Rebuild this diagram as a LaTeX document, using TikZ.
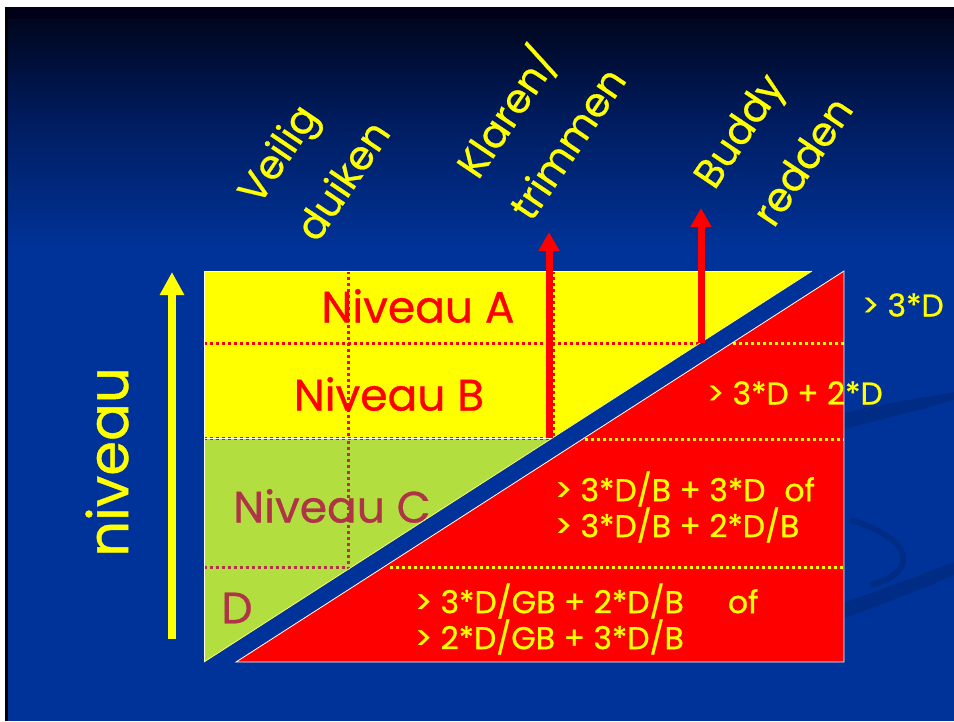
\documentclass[tikz,border=0pt]{standalone}
\usepackage{fontspec}
\setmainfont{Poppins}[FakeBold=0.7]
\usetikzlibrary{arrows.meta}
\definecolor{slideblue}{RGB}{0,51,153}
\definecolor{midblue}{RGB}{0,28,95}
\definecolor{topblue}{RGB}{0,6,30}
\definecolor{lime}{RGB}{178,222,64}
\definecolor{maroon}{RGB}{176,52,72}
\definecolor{ylw}{RGB}{255,255,0}
\begin{document}
\begin{tikzpicture}[x=1pt,y=-1pt,
  lab/.style={inner sep=0pt, font=\fontsize{44}{50}\selectfont},
  rot/.style={inner sep=0pt, rotate=56, text=ylw, font=\fontsize{40}{46}\selectfont},
  small/.style={inner sep=0pt, anchor=west, text=ylw, align=left, font=\fontsize{31.5}{36}\selectfont},
  dotline/.style={line width=3pt, dash pattern=on 3pt off 3pt},
  arrowred/.style={draw=red, line width=7pt, -{Triangle[width=20pt,length=19pt]}},
  arrowylw/.style={draw=ylw, line width=7.5pt, -{Triangle[width=23pt,length=23pt]}},
  outline/.style={draw=white, line width=0.8pt}]
\useasboundingbox (0,0) rectangle (954,721);
% slide background
\fill[white] (0,0) rectangle (954,721);
\fill[black] (5,7) rectangle (954,721);
\fill[slideblue] (8,19) rectangle (954,721);
\fill[black!90!blue] (8,7) rectangle (954,19);
\shade[top color=topblue, bottom color=midblue] (8,19) rectangle (954,120);
\shade[top color=midblue, bottom color=slideblue] (8,120) rectangle (954,250);
% faint swooshes
\fill[black, opacity=0.12] (840,430) .. controls (880,420) and (920,410) .. (954,400) -- (954,392) .. controls (920,398) and (880,404) .. (840,414) -- cycle;
\fill[black, opacity=0.12] (840,620) .. controls (880,605) and (920,590) .. (954,575) -- (954,562) .. controls (920,575) and (880,590) .. (840,604) -- cycle;
\draw[black, opacity=0.12, line width=6pt] (850,520) .. controls (920,540) and (915,575) .. (870,585);
% regions
\fill[ylw] (204,271) -- (812,271) -- (552,438) -- (204,438) -- cycle;
\fill[lime] (204,438) -- (552,438) -- (204,662) -- cycle;
\fill[red] (236,662) -- (844,662) -- (844,271) -- cycle;
% texts in regions
\node[lab, text=red] (na) at (418,306) {Niveau A};
\node[lab, text=red] (nb) at (389,394) {Niveau B};
\node[lab, text=maroon] (nc) at (332,506) {Niveau C};
\node[lab, text=maroon] (nd) at (237,608) {D};
% dotted grid
\draw[dotline, red] (204,343) -- (699,343);
\draw[dotline, ylw] (733,343) -- (844,343);
\draw[dotline, red] (204,438) -- (552,438);
\draw[dotline, ylw] (585,439) -- (844,439);
\draw[dotline, maroon] (204,567) -- (348,567);
\draw[dotline, ylw] (390,567) -- (844,567);
\draw[dotline, red] (348,271) -- (348,438);
\draw[dotline, maroon] (348,441) -- (348,570);
\draw[dotline, red] (553,271) -- (553,436);
% outlines
\draw[outline] (812,271) -- (204,271) -- (204,662);
\draw[outline] (204,438) -- (552,438);
\draw[draw=ylw!60!white, line width=0.8pt] (204,662) -- (812,271);
\draw[outline] (236,662) -- (844,662) -- (844,271) -- cycle;
% arrows
\coordinate (yb) at (172,639);
\coordinate (yt) at (172,272);
\draw[arrowylw] (yb) -- (yt);
\coordinate (kb) at (549,438);
\coordinate (kt) at (549,232);
\draw[arrowred] (kb) -- (kt);
\coordinate (bb) at (701,343);
\coordinate (bt) at (701,208);
\draw[arrowred] (bb) -- (bt);
% axis label
\node[inner sep=0pt, rotate=90, text=ylw, font=\fontsize{56}{64}\selectfont] (niv) at (107,462) {niveau};
% column labels
\node[rot] (l1a) at (281,156) {Veilig};
\node[rot] (l1b) at (342,180) {duiken};
\node[rot] (l2a) at (506,112) {Klaren/};
\node[rot] (l2b) at (567,143) {trimmen};
\node[rot] (l3a) at (742,133) {Buddy};
\node[rot] (l3b) at (802,161) {redden};
% conditions
\node[small] (c1) at (862,305) {> 3*D};
\node[small] (c2) at (707,393) {> 3*D + 2*D};
\node[small] (c3) at (555,507) {> 3*D/B + 3*D\hspace{0.6em}of\\> 3*D/B + 2*D/B};
\node[small] (c4) at (415,619) {> 3*D/GB + 2*D/B\hspace{1.4em}of\\> 2*D/GB + 3*D/B};
\end{tikzpicture}
\end{document}
